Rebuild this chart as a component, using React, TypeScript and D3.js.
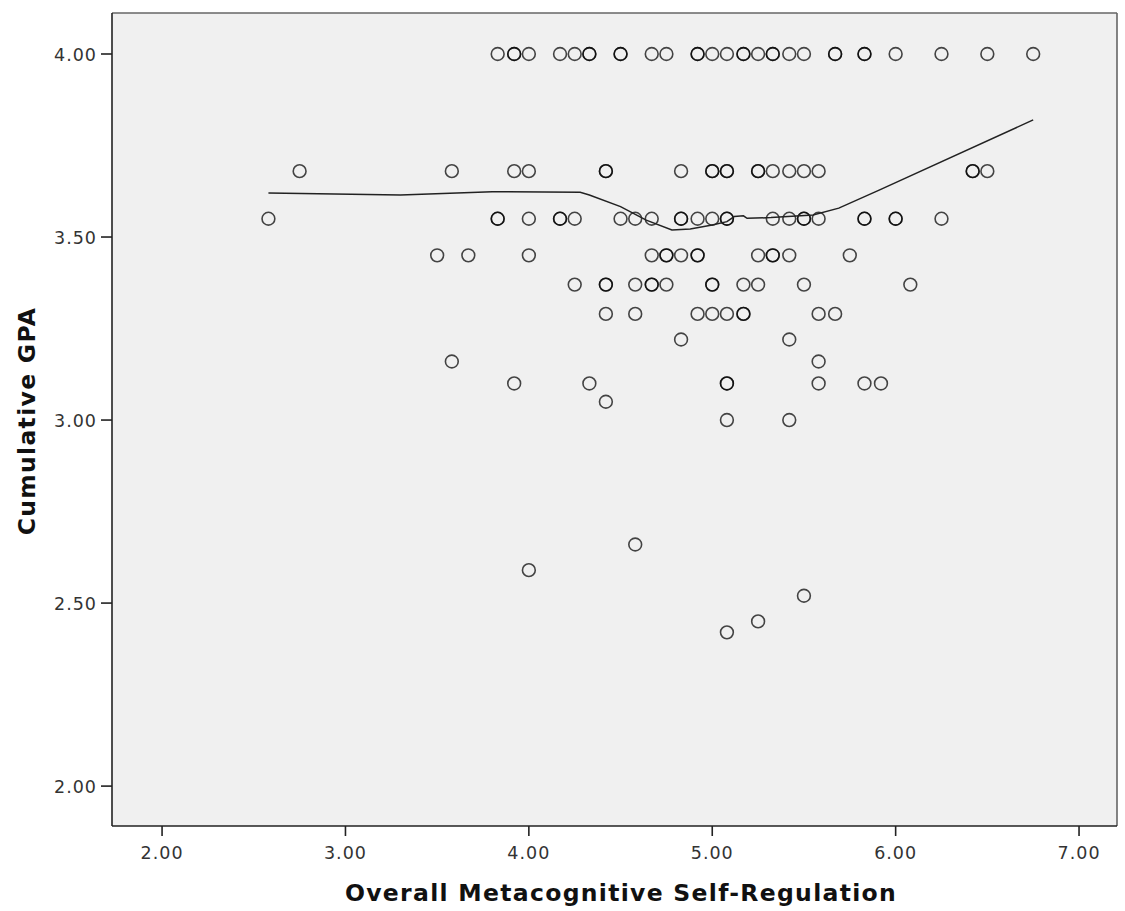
import React from "react";
import * as d3 from "d3";

// X values (Overall Metacognitive Self-Regulation) for each GPA row
const gpaLevels = [4.0, 3.68, 3.55, 3.45, 3.37, 3.29, 3.22, 3.16, 3.1, 3.05, 3.0, 2.66, 2.59, 2.52, 2.45, 2.42];
const row400 = [3.83, 3.92, 3.92, 4.0, 4.17, 4.25, 4.33, 4.33, 4.5, 4.5, 4.67, 4.75, 4.92, 4.92, 5.0, 5.08, 5.17, 5.17, 5.25, 5.33, 5.33, 5.42, 5.5, 5.67, 5.67, 5.83, 5.83, 6.0, 6.25, 6.5, 6.75];
const row368 = [2.75, 3.58, 3.92, 4.0, 4.42, 4.42, 4.83, 5.0, 5.0, 5.08, 5.08, 5.25, 5.25, 5.33, 5.42, 5.5, 5.58, 6.42, 6.42, 6.5];
const row355 = [2.58, 3.83, 3.83, 4.0, 4.17, 4.17, 4.25, 4.5, 4.58, 4.67, 4.83, 4.83, 4.92, 5.0, 5.08, 5.08, 5.33, 5.42, 5.5, 5.5, 5.58, 5.83, 5.83, 6.0, 6.0, 6.25];
const row345 = [3.5, 3.67, 4.0, 4.67, 4.75, 4.75, 4.83, 4.92, 4.92, 5.25, 5.33, 5.33, 5.42, 5.75];
const row337 = [4.25, 4.42, 4.42, 4.58, 4.67, 4.67, 4.75, 5.0, 5.0, 5.17, 5.25, 5.5, 6.08];
const row329 = [4.42, 4.58, 4.92, 5.0, 5.08, 5.17, 5.17, 5.58, 5.67];
const row322 = [4.83, 5.42];
const row316 = [3.58, 5.58];
const row310 = [3.92, 4.33, 5.08, 5.08, 5.58, 5.83, 5.92];
const row305 = [4.42];
const row300 = [5.08, 5.42];
const row266 = [4.58];
const row259 = [4.0];
const row252 = [5.5];
const row245 = [5.25];
const row242 = [5.08];
const rows = [row400, row368, row355, row345, row337, row329, row322, row316, row310, row305, row300, row266, row259, row252, row245, row242];

// Loess fit line
const loessX = [2.58, 3.3, 3.8, 4.28, 4.33, 4.5, 4.64, 4.78, 4.88, 5.0, 5.08, 5.12, 5.17, 5.19, 5.32, 5.55, 5.69, 5.91, 6.75];
const loessY = [3.62, 3.615, 3.624, 3.622, 3.615, 3.583, 3.546, 3.519, 3.522, 3.533, 3.542, 3.556, 3.558, 3.551, 3.553, 3.56, 3.579, 3.628, 3.82];

const xTicks = [2, 3, 4, 5, 6, 7];
const yTicks = [2, 2.5, 3, 3.5, 4];

const FONT = "'DejaVu Sans', Verdana, sans-serif";

export default function App() {
  const W = 1125, H = 911;
  const left = 112, right = 1117, top = 13, bottom = 826;
  const x = d3.scaleLinear().domain([1.727, 7.207]).range([left, right]);
  const y = d3.scaleLinear().domain([1.891, 4.112]).range([bottom, top]);

  const points: { x: number; y: number }[] = [];
  rows.forEach((r, i) => r.forEach((v) => points.push({ x: v, y: gpaLevels[i] })));

  const line = d3
    .line<number>()
    .x((_, i) => x(loessX[i]))
    .y((d) => y(d));

  return (
    <svg width={W} height={H} style={{ position: "absolute", left: 0, top: 0, background: "#fff" }}>
      <rect x={left} y={top} width={right - left} height={bottom - top} fill="#f0f0f0" />
      {points.map((p, i) => (
        <circle key={i} cx={x(p.x)} cy={y(p.y)} r={6.4} fill="none" stroke="#000" strokeOpacity={0.72} strokeWidth={1.6} />
      ))}
      <path d={line(loessY) || ""} fill="none" stroke="#222" strokeWidth={1.5} />
      {/* frame */}
      <line x1={left} y1={top} x2={right} y2={top} stroke="#666" strokeWidth={1.6} />
      <line x1={right} y1={top} x2={right} y2={bottom} stroke="#666" strokeWidth={1.6} />
      <line x1={left} y1={top} x2={left} y2={bottom} stroke="#222" strokeWidth={1.6} />
      <line x1={left} y1={bottom} x2={right} y2={bottom} stroke="#222" strokeWidth={1.6} />
      {yTicks.map((t) => (
        <g key={"y" + t}>
          <line x1={left - 11} x2={left} y1={y(t)} y2={y(t)} stroke="#222" strokeWidth={1.6} />
          <text x={left - 15} y={y(t) + 7} textAnchor="end" fontFamily={FONT} fontSize={17.5} letterSpacing={1} fill="#333">
            {t.toFixed(2)}
          </text>
        </g>
      ))}
      {xTicks.map((t) => (
        <g key={"x" + t}>
          <line x1={x(t)} x2={x(t)} y1={bottom} y2={bottom + 10} stroke="#222" strokeWidth={1.6} />
          <text x={x(t)} y={859} textAnchor="middle" fontFamily={FONT} fontSize={17.5} letterSpacing={1} fill="#333">
            {t.toFixed(2)}
          </text>
        </g>
      ))}
      <text x={621} y={901} textAnchor="middle" fontFamily={FONT} fontSize={23.5} fontWeight="bold" letterSpacing={1.3} fill="#111">
        Overall Metacognitive Self-Regulation
      </text>
      <text transform={`translate(35,${421}) rotate(-90)`} textAnchor="middle" fontFamily={FONT} fontSize={23.5} fontWeight="bold" letterSpacing={1.3} fill="#111">
        Cumulative GPA
      </text>
    </svg>
  );
}
